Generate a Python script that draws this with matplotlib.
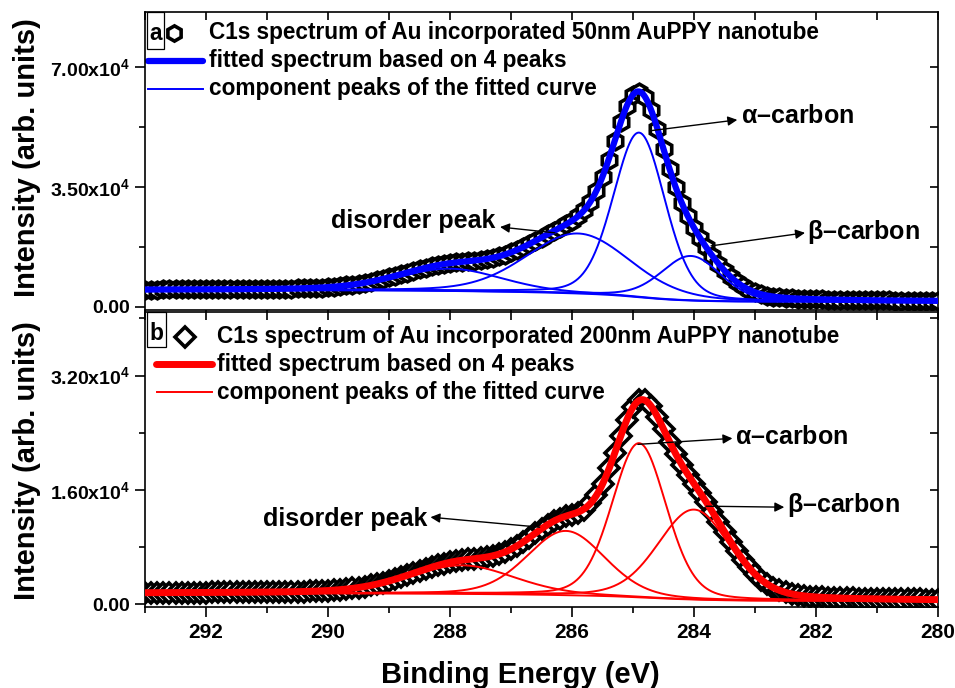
import numpy as np
import matplotlib
matplotlib.use('Agg')
import matplotlib.pyplot as plt
from matplotlib.patches import Rectangle
from matplotlib.ticker import FuncFormatter, MultipleLocator

SANS = 'Liberation Sans'
plt.rcParams['font.family'] = [SANS, 'DejaVu Sans']
plt.rcParams['font.weight'] = 'bold'
plt.rcParams['mathtext.fontset'] = 'custom'
plt.rcParams['mathtext.rm'] = 'Liberation Sans:bold'
plt.rcParams['mathtext.bf'] = 'Liberation Sans:bold'
plt.rcParams['mathtext.it'] = 'Liberation Sans:bold'

# ---------------- data ----------------
# binding energy grid of the measured points, 293.0 ... 280.0 eV (0.1 eV step)
energy = np.round(np.arange(293.0, 279.95, -0.1), 2)

# measured C1s intensity, panel a (50 nm AuPPY)
a_data = [5070, 5070, 5070, 5080, 5090, 5090, 5100, 5100, 5110, 5120,
          5120, 5130, 5140, 5150, 5160, 5170, 5180, 5190, 5210, 5220,
          5240, 5260, 5280, 5310, 5340, 5380, 5430, 5490, 5570, 5660,
          5770, 5900, 6070, 6260, 6480, 6740, 7040, 7370, 7750, 8150,
          8590, 9050, 9530, 10020, 10500, 10970, 11410, 11820, 12180, 12500,
          12760, 12980, 13160, 13330, 13510, 13720, 13990, 14320, 14750, 15270,
          15900, 16620, 17440, 18320, 19260, 20220, 21180, 22130, 23070, 24040,
          25120, 26460, 28220, 30630, 33860, 37990, 42940, 48430, 53920, 58690,
          61890, 62810, 61170, 57300, 51970, 46040, 40200, 34890, 30300, 26410,
          23070, 20100, 17400, 14920, 12640, 10590, 8800, 7270, 6020, 5030,
          4280, 3710, 3300, 3010, 2800, 2640, 2530, 2430, 2360, 2300,
          2240, 2200, 2150, 2110, 2080, 2050, 2020, 1990, 1960, 1940,
          1920, 1900, 1880, 1860, 1850, 1830, 1820, 1800, 1790, 1780,
          1770]

# measured C1s intensity, panel b (200 nm AuPPY)
b_data = [1580, 1580, 1590, 1590, 1590, 1600, 1600, 1600, 1600, 1610,
          1610, 1620, 1620, 1620, 1630, 1630, 1640, 1650, 1650, 1660,
          1670, 1680, 1690, 1700, 1710, 1730, 1750, 1770, 1800, 1840,
          1880, 1940, 2010, 2090, 2190, 2300, 2440, 2600, 2780, 2990,
          3220, 3460, 3730, 4010, 4300, 4590, 4880, 5150, 5410, 5640,
          5830, 6000, 6130, 6240, 6340, 6440, 6570, 6740, 6970, 7280,
          7670, 8140, 8680, 9280, 9900, 10520, 11090, 11580, 11970, 12270,
          12520, 12800, 13230, 14100, 15250, 16850, 19040, 21120, 23570, 25830,
          27565, 28510, 28515, 27680, 26260, 24510, 22710, 21020, 19490, 18010,
          16770, 15530, 14250, 12900, 11510, 10100, 8710, 7400, 6190, 5120,
          4190, 3420, 2790, 2300, 1920, 1630, 1410, 1250, 1140, 1050,
          980, 930, 890, 860, 830, 800, 780, 760, 740, 730,
          710, 700, 690, 670, 660, 650, 640, 640, 630, 620,
          610]

# fitted component peaks  [alpha-carbon, beta-carbon, middle, disorder]
a_centers = [284.90, 284.05, 285.90, 288.00]
a_heights = [48000, 13000, 17500, 6500]
a_fwhm = [1.00, 1.15, 2.00, 2.00]
a_bg_high, a_bg_low = 4900, 1500

b_centers = [284.90, 284.00, 286.10, 287.80]
b_heights = [21600, 12600, 9000, 4000]
b_fwhm = [1.05, 1.40, 1.50, 2.00]
b_bg_high, b_bg_low = 1500, 450

ETA = 0.2  # Lorentzian fraction of the pseudo-Voigt line shape


def peak(x, c, h, w):
    g = np.exp(-4 * np.log(2) * (x - c) ** 2 / w ** 2)
    l = 1.0 / (1 + 4 * (x - c) ** 2 / w ** 2)
    return h * ((1 - ETA) * g + ETA * l)


def model(x, centers, heights, fwhm, bg_high, bg_low):
    comps = [peak(x, c, h, w) for c, h, w in zip(centers, heights, fwhm)]
    tot = np.sum(comps, axis=0)
    cum = np.cumsum(tot[::-1])[::-1]          # Shirley-type background
    bg = bg_low + (bg_high - bg_low) * cum / cum[0]
    return bg, comps


xf = np.linspace(293, 280, 1301)
a_bg, a_comps = model(xf, a_centers, a_heights, a_fwhm, a_bg_high, a_bg_low)
b_bg, b_comps = model(xf, b_centers, b_heights, b_fwhm, b_bg_high, b_bg_low)
a_fit = a_bg + np.sum(a_comps, axis=0)
b_fit = b_bg + np.sum(b_comps, axis=0)

# ---------------- figure ----------------
W, H = 955, 688
fig = plt.figure(figsize=(9.55, 6.88), dpi=100)
ax1 = fig.add_axes([145 / W, 1 - 310 / H, 793 / W, 298 / H])
ax2 = fig.add_axes([145 / W, 1 - 607 / H, 793 / W, 295 / H])

BLUE = '#0000ff'
RED = '#ff0000'

ax1.plot(energy, a_data, ls='none', marker='h', ms=12, mfc='white', mec='black', mew=2.6, zorder=2)
for c in a_comps:
    ax1.plot(xf, a_bg + c, color=BLUE, lw=1.4, zorder=3)
ax1.plot(xf, a_bg, color=BLUE, lw=1.4, zorder=3)
ax1.plot(xf, a_fit, color=BLUE, lw=4.5, zorder=4)

ax2.plot(energy, b_data, ls='none', marker='D', ms=10, mfc='white', mec='black', mew=2.6, zorder=2)
for c in b_comps:
    ax2.plot(xf, b_bg + c, color=RED, lw=1.4, zorder=3)
ax2.plot(xf, b_bg, color=RED, lw=1.4, zorder=3)
ax2.plot(xf, b_fit, color=RED, lw=5, zorder=4)

ax1.set_ylim(-900, 86000)
ax2.set_ylim(-420, 40900)


def yfmt(v, pos):
    if abs(v) < 1e-9:
        return '0.00'
    return '%.2fx10$^{4}$' % (v / 1e4)


for ax, maj in ((ax1, 35000), (ax2, 16000)):
    ax.set_xlim(293, 280)
    ax.xaxis.set_major_locator(MultipleLocator(2))
    ax.xaxis.set_minor_locator(MultipleLocator(1))
    ax.yaxis.set_major_locator(MultipleLocator(maj))
    ax.yaxis.set_minor_locator(MultipleLocator(maj / 2))
    ax.yaxis.set_major_formatter(FuncFormatter(yfmt))
    for s in ax.spines.values():
        s.set_linewidth(1.2)
    ax.tick_params(axis='both', which='both', width=1.2)
    ax.tick_params(axis='y', which='major', left=True, right=False, direction='out', length=7.5,
                   labelsize=14, pad=3)
    ax.tick_params(axis='y', which='minor', left=True, right=False, direction='out', length=4)
    ax.tick_params(axis='x', which='major', bottom=True, direction='out', length=7.5, labelsize=15, pad=4)
    ax.tick_params(axis='x', which='minor', bottom=True, direction='out', length=4)
    sec = ax.secondary_yaxis('right')
    sec.yaxis.set_major_locator(MultipleLocator(maj))
    sec.yaxis.set_minor_locator(MultipleLocator(maj / 2))
    sec.tick_params(axis='y', which='both', direction='in', length=6, width=1.2, labelright=False)
    sec.spines['right'].set_visible(False)
    sec2 = ax.secondary_xaxis('top')
    sec2.xaxis.set_major_locator(MultipleLocator(2))
    sec2.xaxis.set_minor_locator(MultipleLocator(1))
    sec2.tick_params(axis='x', which='both', direction='in', length=6, width=1.2, labeltop=False)
    sec2.spines['top'].set_visible(False)

ax1.tick_params(axis='x', labelbottom=False)

fig.text(27 / W, 1 - 158 / H, 'Intensity (arb. units)', rotation=90, ha='center', va='center',
         fontsize=21, fontweight='bold')
fig.text(27 / W, 1 - 461 / H, 'Intensity (arb. units)', rotation=90, ha='center', va='center',
         fontsize=21, fontweight='bold')
fig.text(520 / W, 1 - 675 / H, 'Binding Energy (eV)', ha='center', va='center',
         fontsize=21, fontweight='bold')


def fx(px):
    return (px - 145) / 793.


def fy1(py):
    return (310 - py) / 298.


def fy2(py):
    return (607 - py) / 295.


LFS = 16.3
ax1.add_patch(Rectangle((fx(147), fy1(49)), 17 / 793., 37 / 298., transform=ax1.transAxes,
                        fill=False, lw=0.9, ec='black', clip_on=False, zorder=6))
ax1.text(fx(155.5), fy1(33), 'a', transform=ax1.transAxes, ha='center', va='center', fontsize=LFS)
ax1.plot([fx(174)], [fy1(33)], transform=ax1.transAxes, marker='h', ms=11, mfc='white', mec='black', mew=2.6)
ax1.text(fx(209), fy1(33), 'C1s spectrum of Au incorporated 50nm AuPPY nanotube', transform=ax1.transAxes,
         ha='left', va='center', fontsize=LFS)
ax1.plot([fx(148), fx(203)], [fy1(61)] * 2, transform=ax1.transAxes, color=BLUE, lw=4.5, solid_capstyle='round')
ax1.text(fx(209), fy1(61), 'fitted spectrum based on 4 peaks', transform=ax1.transAxes,
         ha='left', va='center', fontsize=LFS)
ax1.plot([fx(148), fx(203)], [fy1(89)] * 2, transform=ax1.transAxes, color=BLUE, lw=1.4)
ax1.text(fx(209), fy1(89), 'component peaks of the fitted curve', transform=ax1.transAxes,
         ha='left', va='center', fontsize=LFS)

ax2.add_patch(Rectangle((fx(147), fy2(347)), 19 / 793., 35 / 295., transform=ax2.transAxes,
                        fill=False, lw=0.9, ec='black', clip_on=False, zorder=6))
ax2.text(fx(156.5), fy2(333), 'b', transform=ax2.transAxes, ha='center', va='center', fontsize=LFS)
ax2.plot([fx(185)], [fy2(337)], transform=ax2.transAxes, marker='D', ms=10, mfc='white', mec='black', mew=2.6)
ax2.text(fx(217), fy2(337), 'C1s spectrum of Au incorporated 200nm AuPPY nanotube', transform=ax2.transAxes,
         ha='left', va='center', fontsize=LFS)
ax2.plot([fx(156), fx(212)], [fy2(364)] * 2, transform=ax2.transAxes, color=RED, lw=5, solid_capstyle='round')
ax2.text(fx(217), fy2(364), 'fitted spectrum based on 4 peaks', transform=ax2.transAxes,
         ha='left', va='center', fontsize=LFS)
ax2.plot([fx(157), fx(212)], [fy2(392)] * 2, transform=ax2.transAxes, color=RED, lw=1.4)
ax2.text(fx(217), fy2(392), 'component peaks of the fitted curve', transform=ax2.transAxes,
         ha='left', va='center', fontsize=LFS)

AFS = 18
ap = dict(arrowstyle='-|>', color='black', lw=1.0, mutation_scale=14, shrinkA=0, shrinkB=0)


def label(ax, text, tail, head, tpos, ha):
    ax.annotate('', xy=head, xytext=tail, arrowprops=ap, zorder=7)
    ax.text(tpos[0], tpos[1], text, ha=ha, va='center', fontsize=AFS, zorder=7)


label(ax1, r'$\alpha$' + '\u2013carbon', (284.73, 51340), (283.29, 54550), (283.23, 55700), 'left')
label(ax1, r'$\beta$' + '\u2013carbon', (283.72, 17800), (282.18, 21600), (282.15, 21900), 'left')
label(ax1, 'disorder peak', (286.28, 21600), (287.18, 23300), (287.26, 25100), 'right')
label(ax2, r'$\alpha$' + '\u2013carbon', (284.92, 22360), (283.37, 23200), (283.32, 23340), 'left')
label(ax2, r'$\beta$' + '\u2013carbon', (283.80, 13700), (282.52, 13560), (282.47, 13840), 'left')
label(ax2, 'disorder peak', (286.53, 10760), (288.32, 12160), (288.37, 11880), 'right')

fig.savefig('out.png', dpi=100)
